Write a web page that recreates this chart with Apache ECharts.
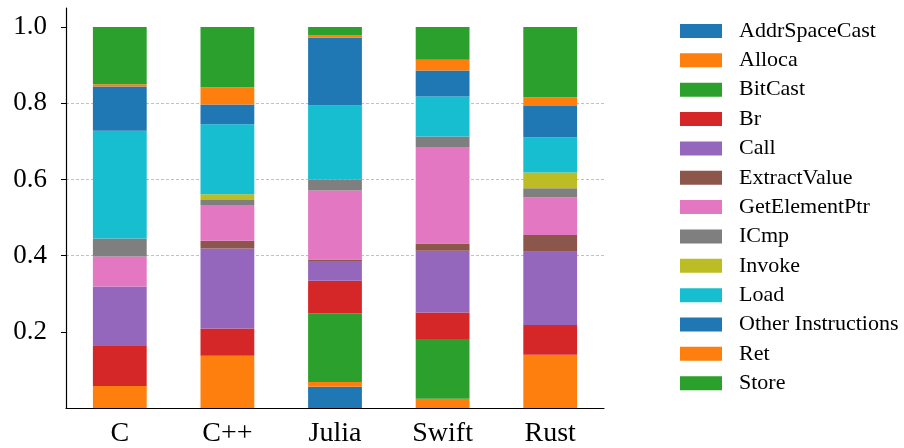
<!DOCTYPE html>
<html>
<head>
<meta charset="utf-8">
<script src="https://cdn.jsdelivr.net/npm/echarts@6/dist/echarts.min.js"></script>
<style>html,body{margin:0;padding:0;background:#fff;}#chart{width:904px;height:448px;}</style>
</head>
<body>
<div id="chart"></div>
<script>
const categories = ['C', 'C++', 'Julia', 'Swift', 'Rust'];
const yTicks = [0.2, 0.4, 0.6, 0.8, 1.0];

const AddrSpaceCast = [0, 0, 0.056, 0, 0];
const Alloca = [0.058, 0.137, 0.012, 0.024, 0.140];
const BitCast = [0, 0, 0.181, 0.157, 0];
const Br = [0.105, 0.072, 0.085, 0.070, 0.078];
const Call = [0.156, 0.210, 0.052, 0.162, 0.192];
const ExtractValue = [0, 0.020, 0.004, 0.019, 0.044];
const GetElementPtr = [0.079, 0.094, 0.181, 0.253, 0.099];
const ICmp = [0.047, 0.013, 0.029, 0.028, 0.024];
const Invoke = [0, 0.015, 0, 0, 0.041];
const Load = [0.283, 0.184, 0.194, 0.105, 0.093];
const OtherInstructions = [0.116, 0.052, 0.178, 0.068, 0.082];
const Ret = [0.006, 0.045, 0.006, 0.028, 0.023];
const Store = [0.150, 0.158, 0.022, 0.086, 0.184];

const seriesList = [
  ['AddrSpaceCast', AddrSpaceCast, '#1f77b4'],
  ['Alloca', Alloca, '#ff7f0e'],
  ['BitCast', BitCast, '#2ca02c'],
  ['Br', Br, '#d62728'],
  ['Call', Call, '#9467bd'],
  ['ExtractValue', ExtractValue, '#8c564b'],
  ['GetElementPtr', GetElementPtr, '#e377c2'],
  ['ICmp', ICmp, '#7f7f7f'],
  ['Invoke', Invoke, '#bcbd22'],
  ['Load', Load, '#17becf'],
  ['Other Instructions', OtherInstructions, '#1f77b4'],
  ['Ret', Ret, '#ff7f0e'],
  ['Store', Store, '#2ca02c']
];

const font = 'Liberation Serif';
const chart = echarts.init(document.getElementById('chart'), null, {renderer: 'canvas'});
chart.setOption({
  animation: false,
  backgroundColor: '#ffffff',
  grid: {left: 66, right: 300, top: 8, bottom: 39, containLabel: false},
  legend: {
    orient: 'vertical',
    left: 675,
    top: 15,
    itemWidth: 42,
    itemHeight: 14,
    itemGap: 7.35,
    icon: 'rect',
    selectedMode: false,
    data: seriesList.map(s => s[0]),
    textStyle: {fontFamily: font, fontSize: 22, color: '#000', padding: [0, 0, 0, 12]}
  },
  xAxis: {
    type: 'category',
    data: categories,
    axisLine: {lineStyle: {color: '#000', width: 1.2}},
    axisTick: {alignWithLabel: true, length: 5, lineStyle: {color: '#000'}},
    axisLabel: {fontFamily: font, fontSize: 28, color: '#000', margin: 12},
    splitLine: {show: false}
  },
  yAxis: {
    type: 'value',
    min: 0,
    max: 1.05,
    interval: 0.2,
    axisLine: {show: true, lineStyle: {color: '#000', width: 1.2}},
    axisTick: {show: true, length: 5, inside: false, customValues: yTicks, lineStyle: {color: '#000'}},
    axisLabel: {fontFamily: font, fontSize: 27, color: '#000', margin: 19, customValues: yTicks,
      formatter: v => v.toFixed(1)},
    splitLine: {show: true, showMinLine: false, showMaxLine: false,
      lineStyle: {color: '#b0b0b0', type: [3, 2], width: 0.8}}
  },
  series: seriesList.map(s => ({
    name: s[0],
    type: 'bar',
    stack: 'total',
    barWidth: '50%',
    data: s[1],
    itemStyle: {color: s[2]}
  }))
});
</script>
</body>
</html>
